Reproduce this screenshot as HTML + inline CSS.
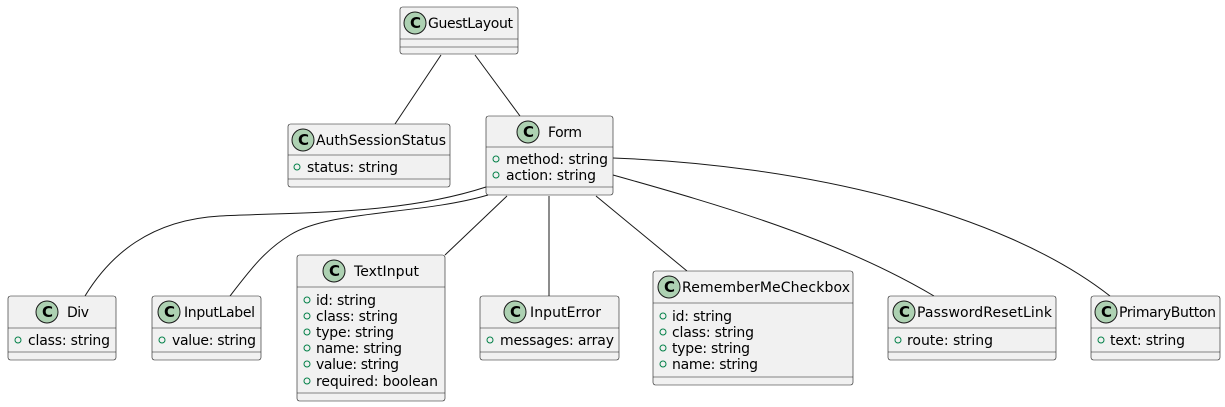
<!DOCTYPE html>
<html><head><meta charset="utf-8"><style>
html,body{margin:0;padding:0;background:#fff;}
svg{display:block;}
text{font-family:"DejaVu Sans","Liberation Sans",sans-serif;font-size:14px;fill:#000;}
.b{fill:#F1F1F1;stroke:#181818;stroke-width:0.6;}
.l{stroke:#181818;stroke-width:0.6;}
.e{fill:none;stroke:#181818;stroke-width:1;}
.ci{fill:#ADD1B2;stroke:#181818;stroke-width:1;}
.c{font-weight:bold;font-size:15px;}
.d{fill:none;stroke:#038048;stroke-width:1;}
</style></head><body>
<svg width="1225" height="407" viewBox="0 0 1225 407" xmlns="http://www.w3.org/2000/svg">
<!-- edges -->
<path class="e" d="M441,55 L395,124"/>
<path class="e" d="M475,55 L520,116"/>
<path class="e" d="M486,187 C400,215 300,212 220,216 C150,220 110,255 85,296"/>
<path class="e" d="M488,195 C420,215 330,210 290,235 C265,250 250,270 230,296"/>
<path class="e" d="M507,196 L445,255"/>
<path class="e" d="M549,196 L549,296"/>
<path class="e" d="M596,196 L687,271"/>
<path class="e" d="M613,175 C720,205 840,240 934,296"/>
<path class="e" d="M613,158 C800,165 1000,210 1110,296"/>

<!-- GuestLayout -->
<rect class="b" x="400" y="7" width="118" height="47" rx="2.5"/>
<circle class="ci" cx="415" cy="23" r="11"/><text class="c" x="410" y="28">C</text>
<text x="428" y="28" textLength="85">GuestLayout</text>
<line class="l" x1="400" y1="39" x2="518" y2="39"/><line class="l" x1="400" y1="47" x2="518" y2="47"/>

<!-- AuthSessionStatus -->
<rect class="b" x="288" y="124" width="162" height="63" rx="2.5"/>
<circle class="ci" cx="303" cy="140" r="11"/><text class="c" x="298" y="145">C</text>
<text x="316" y="145" textLength="130">AuthSessionStatus</text>
<line class="l" x1="288" y1="155" x2="450" y2="155"/>
<circle class="d" cx="297" cy="167" r="3"/><text x="307" y="172" textLength="91">status: string</text>
<line class="l" x1="288" y1="179" x2="450" y2="179"/>

<!-- Form -->
<rect class="b" x="486" y="116" width="127" height="79" rx="2.5"/>
<circle class="ci" cx="528" cy="132" r="11"/><text class="c" x="523" y="137">C</text>
<text x="548" y="137" textLength="34">Form</text>
<line class="l" x1="486" y1="147" x2="613" y2="147"/>
<circle class="d" cx="496" cy="159" r="3"/><text x="506" y="164" textLength="102">method: string</text>
<circle class="d" cx="496" cy="175" r="3"/><text x="506" y="180" textLength="90">action: string</text>
<line class="l" x1="486" y1="187" x2="613" y2="187"/>

<!-- Div -->
<rect class="b" x="8" y="296" width="108" height="64" rx="2.5"/>
<circle class="ci" cx="47" cy="312" r="11"/><text class="c" x="42" y="317">C</text>
<text x="67" y="317" textLength="22">Div</text>
<line class="l" x1="8" y1="328" x2="116" y2="328"/>
<circle class="d" cx="18" cy="340" r="3"/><text x="28" y="345" textLength="82">class: string</text>
<line class="l" x1="8" y1="352" x2="116" y2="352"/>

<!-- InputLabel -->
<rect class="b" x="152" y="296" width="109" height="64" rx="2.5"/>
<circle class="ci" cx="169" cy="312" r="11"/><text class="c" x="164" y="317">C</text>
<text x="184" y="317" textLength="71">InputLabel</text>
<line class="l" x1="152" y1="328" x2="261" y2="328"/>
<circle class="d" cx="162" cy="340" r="3"/><text x="172" y="345" textLength="84">value: string</text>
<line class="l" x1="152" y1="352" x2="261" y2="352"/>

<!-- TextInput -->
<rect class="b" x="297" y="255" width="148" height="146" rx="2.5"/>
<circle class="ci" cx="334" cy="271" r="11"/><text class="c" x="329" y="276">C</text>
<text x="354" y="276" textLength="65">TextInput</text>
<line class="l" x1="297" y1="287" x2="445" y2="287"/>
<circle class="d" cx="307" cy="300" r="3"/><text x="316" y="305" textLength="60">id: string</text>
<circle class="d" cx="307" cy="316" r="3"/><text x="316" y="321" textLength="82">class: string</text>
<circle class="d" cx="307" cy="332" r="3"/><text x="316" y="337" textLength="78">type: string</text>
<circle class="d" cx="307" cy="348" r="3"/><text x="316" y="353" textLength="86">name: string</text>
<circle class="d" cx="307" cy="364" r="3"/><text x="316" y="369" textLength="83">value: string</text>
<circle class="d" cx="307" cy="381" r="3"/><text x="316" y="386" textLength="122">required: boolean</text>
<line class="l" x1="297" y1="393" x2="445" y2="393"/>

<!-- InputError -->
<rect class="b" x="480" y="296" width="139" height="64" rx="2.5"/>
<circle class="ci" cx="515" cy="312" r="11"/><text class="c" x="510" y="317">C</text>
<text x="530" y="317" textLength="71">InputError</text>
<line class="l" x1="480" y1="328" x2="619" y2="328"/>
<circle class="d" cx="490" cy="340" r="3"/><text x="500" y="345" textLength="114">messages: array</text>
<line class="l" x1="480" y1="352" x2="619" y2="352"/>

<!-- RememberMeCheckbox -->
<rect class="b" x="653" y="271" width="200" height="114" rx="2.5"/>
<circle class="ci" cx="669" cy="287" r="11"/><text class="c" x="664" y="292">C</text>
<text x="682" y="292" textLength="168">RememberMeCheckbox</text>
<line class="l" x1="653" y1="303" x2="853" y2="303"/>
<circle class="d" cx="663" cy="316" r="3"/><text x="672" y="321" textLength="60">id: string</text>
<circle class="d" cx="663" cy="332" r="3"/><text x="672" y="337" textLength="82">class: string</text>
<circle class="d" cx="663" cy="348" r="3"/><text x="672" y="353" textLength="78">type: string</text>
<circle class="d" cx="663" cy="364" r="3"/><text x="672" y="369" textLength="86">name: string</text>
<line class="l" x1="653" y1="377" x2="853" y2="377"/>

<!-- PasswordResetLink -->
<rect class="b" x="888" y="296" width="168" height="64" rx="2.5"/>
<circle class="ci" cx="904" cy="312" r="11"/><text class="c" x="899" y="317">C</text>
<text x="917" y="317" textLength="135">PasswordResetLink</text>
<line class="l" x1="888" y1="328" x2="1056" y2="328"/>
<circle class="d" cx="898" cy="340" r="3"/><text x="907" y="345" textLength="86">route: string</text>
<line class="l" x1="888" y1="352" x2="1056" y2="352"/>

<!-- PrimaryButton -->
<rect class="b" x="1091" y="296" width="129" height="64" rx="2.5"/>
<circle class="ci" cx="1106" cy="312" r="11"/><text class="c" x="1101" y="317">C</text>
<text x="1119" y="317" textLength="97">PrimaryButton</text>
<line class="l" x1="1091" y1="328" x2="1220" y2="328"/>
<circle class="d" cx="1101" cy="340" r="3"/><text x="1110" y="345" textLength="75">text: string</text>
<line class="l" x1="1091" y1="352" x2="1220" y2="352"/>
</svg>
</body></html>
